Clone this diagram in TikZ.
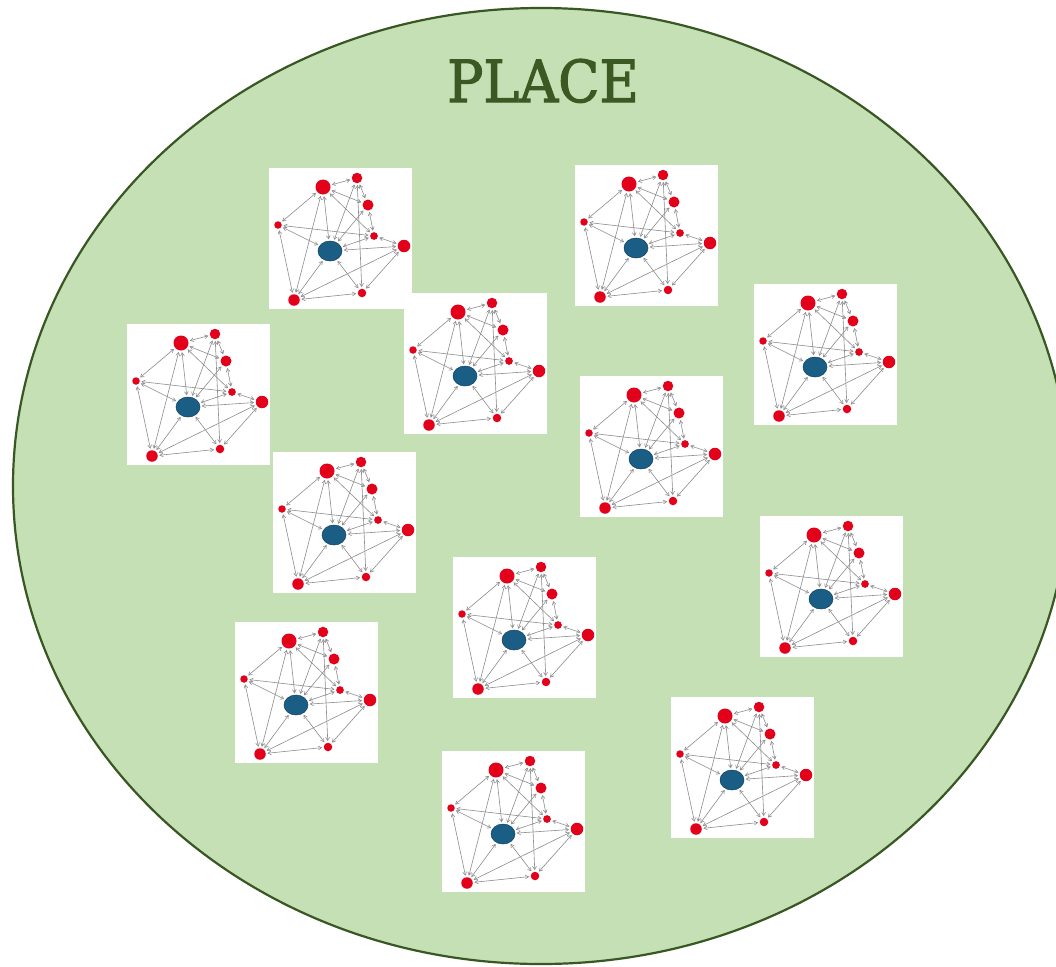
\documentclass[tikz,border=0pt]{standalone}
\usepackage{fontspec}
\usetikzlibrary{shapes.geometric,arrows.meta}
\newfontfamily\titlefont[FakeBold=2]{DejaVu Serif}
\definecolor{placefill}{HTML}{C5E0B4}
\definecolor{placeline}{HTML}{385723}
\definecolor{titlecol}{HTML}{3B5A23}
\definecolor{netred}{HTML}{E2001A}
\definecolor{netblue}{HTML}{1A5E85}
\definecolor{netblueline}{HTML}{0E3F5E}
\definecolor{edgegray}{HTML}{8C8C8C}
\tikzset{
  rn/.style={circle, fill=netred, inner sep=0pt},
  bn/.style={ellipse, fill=netblue, draw=netblueline, line width=0.5pt, inner sep=0pt, minimum width=24pt, minimum height=20pt},
  edge/.style={draw=edgegray, line width=0.6pt, {Straight Barb[length=3.2pt,width=3.8pt]}-{Straight Barb[length=3.2pt,width=3.8pt]}, shorten >=1.5pt, shorten <=1.5pt},
  tilebg/.style={fill=white},
  net/.pic={
    \fill[tilebg] (0,0) rectangle (143,141);
    \node[rn, minimum size=15pt] (-A) at (54,19) {};
    \node[rn, minimum size=10.5pt] (-B) at (88,10) {};
    \node[rn, minimum size=11pt] (-C) at (99,37) {};
    \node[rn, minimum size=7.5pt] (-D) at (9,57) {};
    \node[rn, minimum size=7.7pt] (-E) at (105,68) {};
    \node[rn, minimum size=12.5pt] (-F) at (135,78) {};
    \node[bn] (-O) at (61,83) {};
    \node[rn, minimum size=11.5pt] (-G) at (25,132) {};
    \node[rn, minimum size=8.5pt] (-H) at (93,125) {};
    \draw[edge] (-A) -- (-B);
    \draw[edge] (-A) -- (-D);
    \draw[edge] (-A) -- (-O);
    \draw[edge] (-A) -- (-G);
    \draw[edge] (-A) -- (-C);
    \draw[edge] (-A) -- (-E);
    \draw[edge] (-B) -- (-C);
    \draw[edge] (-B) -- (-H);
    \draw[edge] (-B) -- (-O);
    \draw[edge] (-C) -- (-O);
    \draw[edge] (-C) -- (-E);
    \draw[edge] (-D) -- (-E);
    \draw[edge] (-D) -- (-O);
    \draw[edge] (-D) -- (-G);
    \draw[edge] (-E) -- (-F);
    \draw[edge] (-E) -- (-O);
    \draw[edge] (-F) -- (-O);
    \draw[edge] (-F) -- (-G);
    \draw[edge] (-F) -- (-H);
    \draw[edge] (-G) -- (-O);
    \draw[edge] (-G) -- (-H);
    \draw[edge] (-H) -- (-O);
  }
}
\begin{document}
\begin{tikzpicture}[x=1pt,y=-1pt]
  \useasboundingbox (0,0) rectangle (1056,966);
  \fill[white] (0,0) rectangle (1056,966);
  \draw[fill=placefill, draw=placeline, line width=2.2pt] (541,486) ellipse [x radius=528, y radius=478];
  \node[text=titlecol, font=\titlefont\fontsize{58}{58}\selectfont, anchor=base, inner sep=0pt] (title) at (543,102) {\scalebox{0.93}[1]{PLACE}};
  \pic (t1) at (269,168) {net};
  \pic (t2) at (575,165) {net};
  \pic (t3) at (127,324) {net};
  \pic (t4) at (404,293) {net};
  \pic (t5) at (754,284) {net};
  \pic (t6) at (580,376) {net};
  \pic (t7) at (273,452) {net};
  \pic (t8) at (760,516) {net};
  \pic (t9) at (453,557) {net};
  \pic (t10) at (235,622) {net};
  \pic (t11) at (671,697) {net};
  \pic (t12) at (442,751) {net};
\end{tikzpicture}
\end{document}
